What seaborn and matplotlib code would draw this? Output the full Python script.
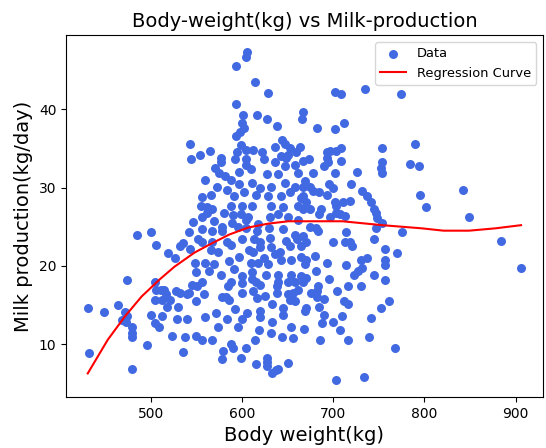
import matplotlib
matplotlib.use('Agg')
import matplotlib.pyplot as plt
import seaborn as sns

# 体重(kg) 与 日产奶量(kg/day)，按图中区域逐块读取
weight = (
    [543, 544, 606, 604, 594, 614, 629, 594, 601, 617, 628, 667, 666, 638, 600, 602, 598, 594,
     644, 647, 599, 604, 653, 664, 659, 651, 565, 554, 577, 643, 592, 604, 624, 636, 667]
    + [702, 709, 735, 774, 682, 702, 712, 754, 790, 693, 697, 703, 709, 693, 694, 674, 709, 754, 784, 794]
    + [485, 500, 506, 542, 519, 527, 532, 535, 543, 474, 505, 549]
    + [431, 449, 464, 472, 474, 469, 473, 479, 479, 480, 496, 432, 479, 535, 523, 500, 505, 509,
       512, 506, 511, 515, 517, 521, 505, 512, 518, 530, 528, 532, 540, 529, 540, 538, 545]
    + [551, 542, 558, 550, 585, 588, 600, 611, 620, 578, 583, 586, 617, 639, 651, 656, 653, 658,
       633, 645, 645, 669, 600, 633, 654, 574, 619, 550, 556, 567, 588, 590, 614, 604, 579, 578,
       599, 628, 627, 628, 615, 637, 640, 633, 651]
    + [667, 683, 682, 682, 695, 716, 731, 757, 761, 753, 670, 685, 710, 741, 688, 708, 686, 716,
       739, 768, 703, 734]
    + [795, 802, 842, 849, 884, 906]
    + [678, 702, 753, 754, 669, 667, 675, 678, 685, 693, 667, 670, 675, 667, 702, 703, 711, 719,
       737, 742, 687, 685, 703, 708, 713, 697, 745, 747, 748, 754, 747, 714, 675, 681, 683, 775,
       667, 670, 700, 713, 718, 745, 721, 757, 770, 680, 737, 731, 757, 757, 670, 669, 693, 714,
       732, 723, 727, 681, 745, 670]
    + [577, 605, 647, 658, 575, 597, 610, 627, 640, 662, 597, 573, 584, 611, 620, 632, 647, 658,
       591, 602, 615, 629, 643, 653, 665, 555, 562, 567, 588, 600, 611, 632, 645, 662, 556, 569,
       578, 589, 599, 607, 618, 631, 640, 651, 662, 556, 567, 578, 605, 616, 631, 645, 658, 556,
       567, 588, 600, 613, 620, 632, 642, 653, 665, 559, 569, 586, 597, 610, 618, 629, 643, 654,
       665, 550, 564, 577, 591, 600, 611, 626, 640, 654, 665, 556, 615, 640, 658]
    + [560, 570, 582, 566, 588, 595, 612, 622, 636, 648, 690, 696, 700, 720, 726, 732, 620, 630,
       612, 624, 636, 648, 660, 574, 584, 596, 608, 566, 590, 604, 556, 562, 580, 546, 552, 600,
       612, 625, 638, 650, 662, 676, 690, 704, 716, 592, 606, 620, 560, 572, 584, 596, 620, 632,
       644, 656, 668, 690, 700, 712]
)
milk = (
    [35.6, 33.7, 47.3, 46.7, 45.5, 43.5, 42.0, 40.7, 39.3, 39.2, 38.8, 39.6, 38.7, 37.8, 38.2, 37.6, 37.1, 36.6,
     36.0, 35.5, 35.4, 34.8, 35.0, 35.2, 34.5, 34.1, 34.6, 34.1, 33.8, 34.0, 33.6, 33.7, 33.6, 33.2, 33.4]
    + [42.2, 41.9, 42.6, 41.9, 37.6, 37.5, 38.2, 35.0, 35.5, 34.5, 34.6, 34.7, 35.0, 33.8, 33.2, 33.7, 33.4, 33.2, 33.0, 32.7]
    + [23.9, 24.3, 22.7, 24.3, 21.7, 21.0, 22.5, 22.9, 22.2, 18.2, 18.0, 20.4]
    + [14.7, 14.1, 15.0, 14.1, 13.6, 13.1, 12.9, 12.2, 11.5, 11.0, 9.9, 8.9, 6.9, 9.0, 11.1, 13.7, 12.7, 12.2,
       13.6, 17.0, 17.0, 16.9, 16.4, 15.7, 15.6, 15.7, 14.8, 14.8, 16.8, 16.6, 16.4, 13.2, 13.3, 10.9, 17.6]
    + [17.4, 16.6, 16.4, 15.5, 17.4, 17.9, 17.8, 18.3, 17.6, 16.1, 16.0, 15.7, 15.9, 16.6, 16.4, 16.6, 15.7, 15.5,
       15.1, 14.7, 13.8, 14.2, 13.2, 12.8, 12.2, 12.2, 11.9, 11.1, 10.6, 10.5, 10.1, 9.6, 10.5, 9.6, 9.1, 8.1,
       8.3, 8.3, 7.8, 7.2, 7.5, 6.8, 6.9, 6.3, 7.6]
    + [17.9, 17.4, 16.8, 16.1, 18.3, 17.5, 17.4, 18.2, 15.5, 14.7, 14.7, 14.8, 13.6, 13.4, 12.7, 11.9, 10.6, 10.5,
       11.0, 9.6, 5.4, 5.9]
    + [29.1, 27.5, 29.7, 26.3, 23.2, 19.7]
    + [31.9, 31.8, 32.5, 31.9, 30.8, 30.1, 30.1, 29.5, 29.4, 29.1, 28.9, 28.1, 27.2, 27.2, 28.2, 27.6, 28.1, 28.3,
       28.9, 28.2, 27.2, 26.6, 26.7, 26.6, 26.4, 26.3, 27.3, 26.7, 26.1, 25.5, 24.9, 24.3, 25.0, 24.9, 24.5, 24.3,
       23.8, 23.1, 23.1, 23.1, 23.0, 23.4, 22.5, 22.2, 21.7, 21.3, 21.0, 20.8, 20.8, 20.1, 20.8, 20.2, 20.4, 20.1,
       19.7, 18.9, 19.3, 19.3, 18.9, 18.5]
    + [33.3, 32.9, 32.7, 32.9, 31.9, 32.0, 32.3, 31.7, 31.7, 31.9, 30.4, 30.1, 29.7, 30.6, 30.0, 30.1, 30.6, 30.1,
       28.9, 29.4, 29.1, 28.9, 28.9, 29.4, 28.7, 27.6, 27.5, 27.2, 27.6, 27.6, 27.6, 27.6, 27.5, 27.6, 26.2, 25.7,
       25.0, 25.5, 26.6, 26.2, 25.3, 26.2, 26.6, 26.3, 25.9, 24.7, 24.4, 24.4, 24.9, 24.4, 23.6, 24.7, 24.0, 23.1,
       23.0, 22.7, 23.4, 23.4, 22.4, 22.4, 21.8, 22.5, 22.5, 20.4, 20.2, 20.6, 21.1, 20.4, 20.4, 20.2, 20.8, 20.8,
       21.2, 19.2, 19.3, 18.9, 19.6, 18.7, 19.2, 18.9, 18.9, 18.9, 18.7, 18.0, 18.0, 17.9, 18.0]
    + [31.0, 32.5, 31.5, 29.0, 31.0, 34.5, 34.8, 34.5, 35.2, 33.8, 32.8, 30.5, 30.0, 30.5, 32.0, 29.5, 23.0, 24.8,
       21.8, 21.0, 21.5, 23.2, 23.5, 21.8, 23.0, 25.0, 22.0, 22.0, 26.5, 25.8, 28.8, 26.8, 26.8, 25.6, 23.5, 16.5,
       16.8, 16.2, 17.5, 18.0, 16.9, 16.5, 15.8, 16.8, 15.2, 14.5, 14.0, 13.5, 13.5, 14.0, 13.2, 12.2, 14.2, 11.5,
       11.0, 10.8, 12.0, 13.8, 12.8, 15.5]
)

# 回归曲线
curve_weight = [431, 453, 472, 490, 510, 526, 548, 564, 586, 607, 629, 651, 672, 710, 754, 797, 821, 849, 878, 906]
curve_milk = [6.3, 10.6, 13.6, 16.1, 18.3, 19.9, 21.7, 22.7, 24.0, 24.9, 25.4, 25.7, 25.7, 25.7, 25.2, 24.8,
              24.5, 24.5, 24.8, 25.2]

fig, ax = plt.subplots(figsize=(5.46, 4.48), dpi=100)
sns.scatterplot(x=weight, y=milk, color='royalblue', s=42, linewidth=0, label='Data', ax=ax)
sns.lineplot(x=curve_weight, y=curve_milk, color='red', label='Regression Curve', ax=ax, sort=False)

ax.set_title('Body-weight(kg) vs Milk-production', fontsize=14)
ax.set_xlabel('Body weight(kg)', fontsize=14)
ax.set_ylabel('Milk production(kg/day)', fontsize=14)
ax.legend(loc='upper right', fontsize=9.4)

fig.subplots_adjust(left=0.121, right=0.994, bottom=0.114, top=0.921)
plt.savefig('out.png', dpi=100)
